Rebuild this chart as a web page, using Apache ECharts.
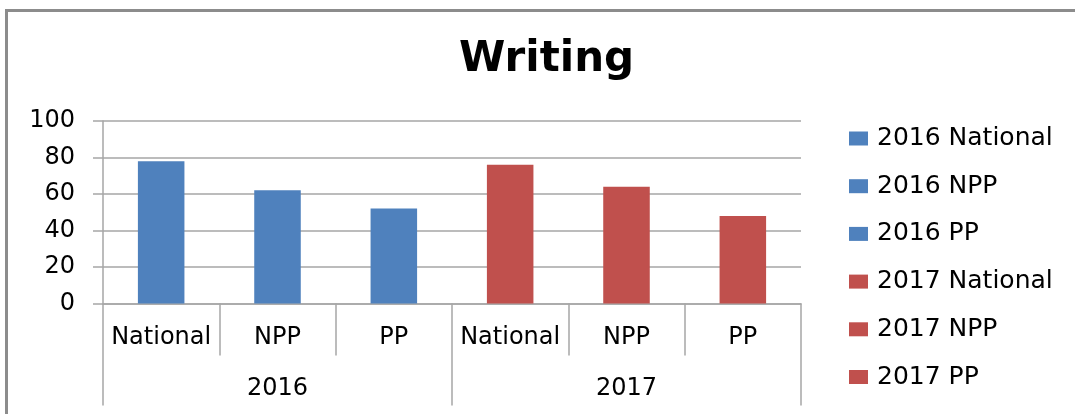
<!DOCTYPE html>
<html>
<head>
<meta charset="utf-8">
<script src="https://cdn.jsdelivr.net/npm/echarts@6/dist/echarts.min.js"></script>
<style>
html,body{margin:0;padding:0;background:#fff;}
#chart{width:1075px;height:414px;}
</style>
</head>
<body>
<div id="chart"></div>
<script>
const titleText = 'Writing';
const categories = ['National', 'NPP', 'PP', 'National', 'NPP', 'PP'];
const years = ['2016', '2017'];
const seriesNames = ['2016 National', '2016 NPP', '2016 PP', '2017 National', '2017 NPP', '2017 PP'];
const values = [78, 62, 52, 76, 64, 48];
const seriesColors = ['#4F81BD', '#4F81BD', '#4F81BD', '#C0504D', '#C0504D', '#C0504D'];
const yTicks = [0, 20, 40, 60, 80, 100];

const FONT = 'DejaVu Sans';
const GREY = '#a6a6a6';

const series = seriesNames.map((name, i) => ({
  name: name,
  type: 'bar',
  stack: 'all',
  barWidth: '40%',
  xAxisIndex: 0,
  itemStyle: { color: seriesColors[i] },
  data: categories.map((c, j) => (j === i ? values[i] : '-'))
}));

const chart = echarts.init(document.getElementById('chart'));
chart.setOption({
  backgroundColor: '#fff',
  animation: false,
  title: {
    text: titleText,
    left: 459,
    top: 39,
    padding: 0,
    textStyle: { fontFamily: FONT, fontWeight: 'bold', fontSize: 42, color: '#000' }
  },
  graphic: [{
    type: 'rect',
    silent: true,
    shape: { x: 6.5, y: 10.5, width: 1200, height: 600 },
    style: { fill: 'none', stroke: '#8c8c8c', lineWidth: 3 }
  }],
  legend: {
    orient: 'vertical',
    left: 849,
    top: 126,
    padding: 0,
    itemWidth: 19,
    itemHeight: 14,
    itemGap: 22.7,
    icon: 'rect',
    data: seriesNames,
    textStyle: { fontFamily: FONT, fontSize: 25, color: '#000', padding: [0, 0, 0, 4] }
  },
  grid: { left: 103, right: 274, top: 121, bottom: 110.5, containLabel: false },
  xAxis: [{
    type: 'category',
    data: categories,
    position: 'bottom',
    axisLine: { show: true, lineStyle: { color: GREY, width: 1.5 } },
    axisTick: { show: true, interval: 0, length: 52, lineStyle: { color: GREY, width: 1.5 } },
    axisLabel: { interval: 0, margin: 22, fontFamily: FONT, fontSize: 24, color: '#000' }
  }, {
    type: 'category',
    data: years,
    position: 'bottom',
    axisLine: { show: false },
    axisTick: { show: true, interval: 0, length: 102, lineStyle: { color: GREY, width: 1.5 } },
    axisLabel: { interval: 0, margin: 73, fontFamily: FONT, fontSize: 24, color: '#000' }
  }],
  yAxis: {
    type: 'value',
    min: yTicks[0],
    max: yTicks[yTicks.length - 1],
    interval: 20,
    axisLine: { show: true, lineStyle: { color: GREY, width: 1.5 } },
    axisTick: { show: true, inside: false, length: 10, lineStyle: { color: GREY, width: 1.5 } },
    splitLine: { show: true, lineStyle: { color: GREY, width: 1.5 } },
    axisLabel: { margin: 28, fontFamily: FONT, fontSize: 24, color: '#000' }
  },
  series: series
});
</script>
</body>
</html>
